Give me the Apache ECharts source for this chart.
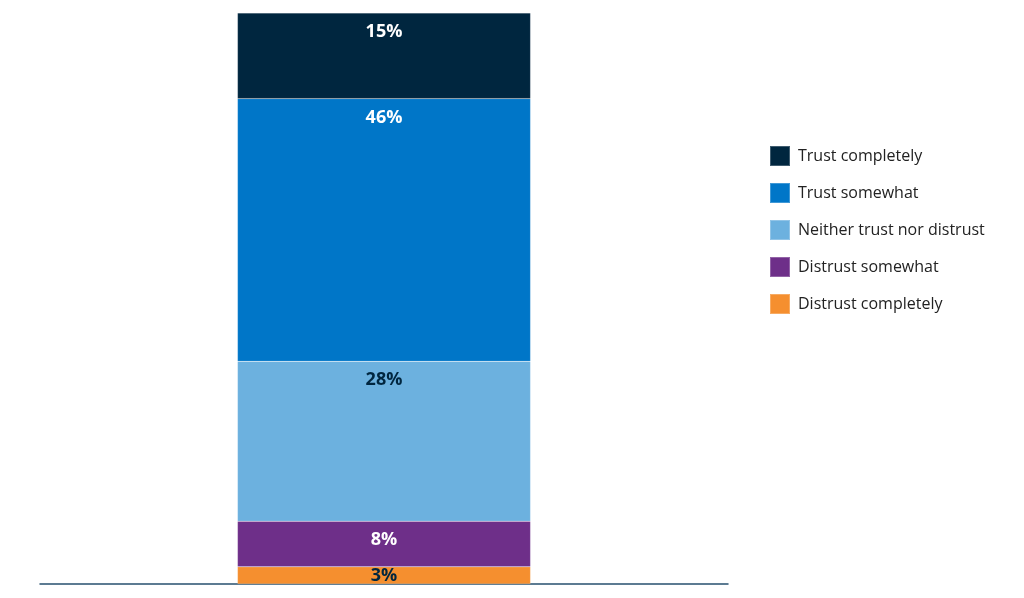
<!DOCTYPE html>
<html>
<head>
<meta charset="utf-8">
<script src="https://cdn.jsdelivr.net/npm/echarts@6/dist/echarts.min.js"></script>
<style>
	html, body { margin: 0; padding: 0; background: #fff; }
	#chart { width: 1024px; height: 598px; }
</style>
</head>
<body>
<div id="chart"></div>
<script>
// 数据
var categories = ['All'];
var seriesNames = ['Trust completely', 'Trust somewhat', 'Neither trust nor distrust', 'Distrust somewhat', 'Distrust completely'];
var trustCompletely = [15];
var trustSomewhat = [46];
var neither = [28];
var distrustSomewhat = [8];
var distrustCompletely = [3];
var colors = ['#00263F', '#0076C8', '#6CB1DF', '#6E2F89', '#F58F2F'];
var labelColors = ['#fff', '#fff', '#00263F', '#fff', '#00263F'];

function makeSeries(idx, data, pos) {
	return {
		name: seriesNames[idx],
		type: 'bar',
		stack: 'total',
		barWidth: '42.6%',
		data: data,
		itemStyle: {
			color: colors[idx],
			borderColor: 'rgba(255,255,255,0.25)',
			borderWidth: 0.5
		},
		label: {
			show: true,
			position: pos,
			distance: 10,
			formatter: '{c}%',
			color: labelColors[idx],
			fontFamily: 'Open Sans',
			fontSize: 18,
			fontWeight: 'bold'
		}
	};
}

var chart = echarts.init(document.getElementById('chart'));
var option = {
	animation: false,
	grid: {
		left: 40,
		right: 296,
		top: 13,
		bottom: 14
	},
	legend: {
		orient: 'vertical',
		left: 769,
		top: 145,
		padding: 0,
		itemWidth: 20,
		itemHeight: 20,
		itemGap: 15,
		icon: 'rect',
		textStyle: {
			color: '#222',
			fontFamily: 'Open Sans',
			fontSize: 16,
			padding: [0, 0, 0, 3]
		},
		data: seriesNames
	},
	xAxis: {
		type: 'category',
		data: categories,
		axisTick: { show: false },
		axisLabel: { show: false },
		axisLine: {
			lineStyle: { color: '#27506F', width: 1.5 }
		}
	},
	yAxis: {
		type: 'value',
		min: 0,
		max: 100,
		show: false
	},
	series: [
		makeSeries(4, distrustCompletely, 'inside'),
		makeSeries(3, distrustSomewhat, 'insideTop'),
		makeSeries(2, neither, 'insideTop'),
		makeSeries(1, trustSomewhat, 'insideTop'),
		makeSeries(0, trustCompletely, 'insideTop')
	]
};
chart.setOption(option);
</script>
</body>
</html>
